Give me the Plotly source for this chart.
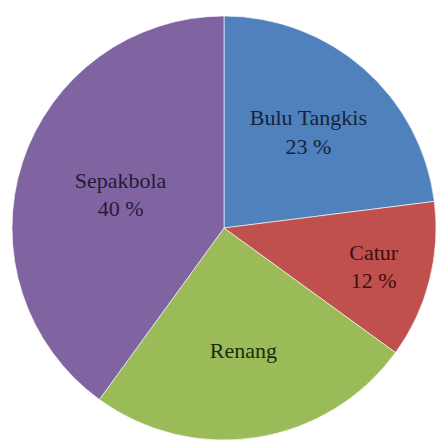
import plotly.graph_objects as go

categories = ["Bulu Tangkis", "Catur", "Renang", "Sepakbola"]
values = [23, 12, 25, 40]
colors = ["#4F81BD", "#C0504D", "#9BBB59", "#8064A2"]
text_colors = ["#16233b", "#3f0e0e", "#1a2c0e", "#261a38"]
templates = ["%{label}<br>%{value} %", "%{label}<br>%{value} %", "%{label}", "%{label}<br>%{value} %"]

W, H = 437, 440
cx, cy, r = 224, 228, 212

fig = go.Figure(go.Pie(
    labels=categories,
    values=values,
    sort=False,
    direction="clockwise",
    rotation=0,
    marker=dict(colors=colors, line=dict(color="rgba(255,255,255,0.6)", width=1)),
    texttemplate=templates,
    textposition="inside",
    insidetextorientation="horizontal",
    insidetextfont=dict(family="Liberation Serif", size=22, color=text_colors),
    showlegend=False,
    hoverinfo="label+percent",
    domain=dict(x=[(cx - r) / W, (cx + r) / W], y=[(H - cy - r) / H, (H - cy + r) / H]),
))

fig.update_layout(
    width=W, height=H,
    margin=dict(l=0, r=0, t=0, b=0),
    paper_bgcolor="white",
    plot_bgcolor="white",
    uniformtext=dict(minsize=22, mode="show"),
)

fig.write_html(
    "out.html",
    config={"displayModeBar": False},
    post_script="document.body.style.margin='0';document.body.style.overflow='hidden';",
)
